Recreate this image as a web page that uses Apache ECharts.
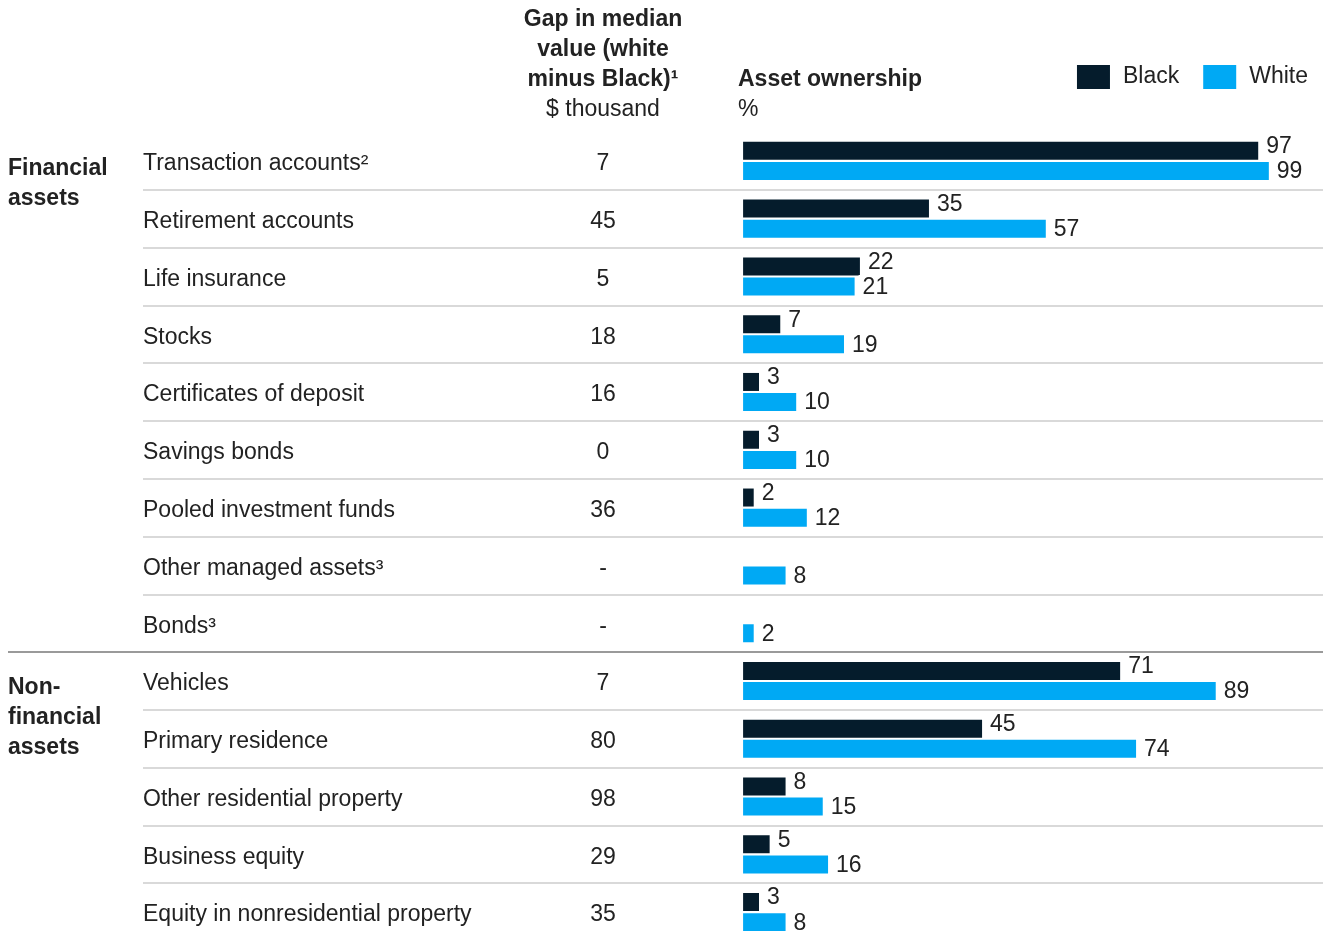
<!DOCTYPE html>
<html>
<head>
<meta charset="utf-8">
<script src="https://cdn.jsdelivr.net/npm/echarts@6/dist/echarts.min.js"></script>
<style>
  html, body { margin: 0; padding: 0; background: #ffffff; }
  #chart { width: 1328px; height: 931px; }
</style>
</head>
<body>
<div id="chart"></div>
<script>
// Asset types, one row each, top to bottom
const categories = [
  'Transaction accounts²',
  'Retirement accounts',
  'Life insurance',
  'Stocks',
  'Certificates of deposit',
  'Savings bonds',
  'Pooled investment funds',
  'Other managed assets³',
  'Bonds³',
  'Vehicles',
  'Primary residence',
  'Other residential property',
  'Business equity',
  'Equity in nonresidential property'
];

// Gap in median value (white minus Black), $ thousand
const gapLabels = ['7', '45', '5', '18', '16', '0', '36', '-', '-', '7', '80', '98', '29', '35'];

// Asset ownership, %
const blackShare = [97, 35, 22, 7, 3, 3, 2, null, null, 71, 45, 8, 5, 3];
const whiteShare = [99, 57, 21, 19, 10, 10, 12, 8, 2, 89, 74, 15, 16, 8];

// Row groups
const groupNames = ['Financial\nassets', 'Non-\nfinancial\nassets'];
const groupFirstRow = [0, 9];

const FONT = '"Liberation Sans", Arial, sans-serif';
const FS = 23;
const TEXT = '#222222';
const NAVY = '#051c2c';
const CYAN = '#00a9f4';

const chart = echarts.init(document.getElementById('chart'), null, { renderer: 'canvas' });

const labelStyle = {
  show: true,
  position: 'right',
  distance: 4,
  fontSize: FS,
  fontFamily: FONT,
  color: TEXT,
  backgroundColor: '#ffffff',
  padding: [1, 4, 1, 4]
};

// Row labels sit a touch below the row centre
const rowLabel = {
  interval: 0,
  verticalAlign: 'top',
  lineHeight: 6,
  fontSize: FS,
  color: TEXT,
  fontFamily: FONT
};

const option = {
  backgroundColor: '#ffffff',
  animation: false,
  textStyle: { fontFamily: FONT },
  legend: {
    data: ['Black', 'White'],
    right: 15,
    top: 60,
    icon: 'rect',
    itemWidth: 33,
    itemHeight: 24,
    itemGap: 24,
    textStyle: { fontSize: FS, color: TEXT, fontFamily: FONT, padding: [0, 0, 0, 8] }
  },
  grid: { left: 143, top: 132, width: 1180, height: 809, outerBoundsMode: 'none' },
  xAxis: {
    type: 'value',
    min: -113,
    max: 109.2,
    show: false
  },
  yAxis: [
    {
      type: 'category',
      data: categories,
      inverse: true,
      axisLine: { show: false },
      axisTick: { show: false },
      axisLabel: Object.assign({}, rowLabel, { align: 'left', margin: 0 }),
      splitLine: {
        show: true,
        interval: (i) => i !== 0,
        lineStyle: { color: '#d9d9d9', width: 2 }
      }
    },
    {
      type: 'category',
      data: categories,
      inverse: true,
      position: 'left',
      axisLine: { show: false },
      axisTick: { show: false },
      axisLabel: Object.assign({}, rowLabel, {
        align: 'center',
        margin: -460,
        formatter: (v, i) => gapLabels[i]
      }),
      splitLine: { show: false }
    }
  ],
  series: [
    {
      name: 'Black',
      type: 'bar',
      yAxisIndex: 0,
      data: blackShare,
      barWidth: 18,
      barGap: '12%',
      itemStyle: { color: NAVY },
      label: Object.assign({}, labelStyle, { offset: [0, -4] }),
      z: 2
    },
    {
      name: 'White',
      type: 'bar',
      yAxisIndex: 0,
      data: whiteShare,
      barWidth: 18,
      barGap: '12%',
      itemStyle: { color: CYAN },
      label: Object.assign({}, labelStyle, { offset: [0, 1] }),
      z: 2
    }
  ]
};

chart.setOption(option);

// Column headers, group labels and the group divider
const rowY = i => chart.convertToPixel({ gridIndex: 0 }, [0, i])[1];
const dividerY = (rowY(8) + rowY(9)) / 2;

const graphics = [
  {
    type: 'text',
    style: {
      text: 'Gap in median\nvalue (white\nminus Black)¹',
      x: 603, y: 5,
      textAlign: 'center',
      textVerticalAlign: 'top',
      lineHeight: 30,
      font: 'bold ' + FS + 'px ' + FONT,
      fill: TEXT
    }
  },
  {
    type: 'text',
    style: {
      text: '$ thousand',
      x: 603, y: 110,
      textAlign: 'center',
      textVerticalAlign: 'middle',
      font: FS + 'px ' + FONT,
      fill: TEXT
    }
  },
  {
    type: 'text',
    style: {
      text: 'Asset ownership',
      x: 738, y: 80,
      textAlign: 'left',
      textVerticalAlign: 'middle',
      font: 'bold ' + FS + 'px ' + FONT,
      fill: TEXT
    }
  },
  {
    type: 'text',
    style: {
      text: '%',
      x: 738, y: 110,
      textAlign: 'left',
      textVerticalAlign: 'middle',
      font: FS + 'px ' + FONT,
      fill: TEXT
    }
  },
  {
    type: 'line',
    shape: { x1: 8, y1: dividerY, x2: 1323, y2: dividerY },
    style: { stroke: '#9a9a9a', lineWidth: 2 },
    z: 10
  }
];

groupNames.forEach((name, g) => {
  graphics.push({
    type: 'text',
    style: {
      text: name,
      x: 8, y: rowY(groupFirstRow[g]) - 8 + (g === 0 ? 1 : 0),
      textAlign: 'left',
      textVerticalAlign: 'top',
      lineHeight: 30,
      font: 'bold ' + FS + 'px ' + FONT,
      fill: TEXT
    }
  });
});

chart.setOption({ graphic: graphics });
</script>
</body>
</html>
